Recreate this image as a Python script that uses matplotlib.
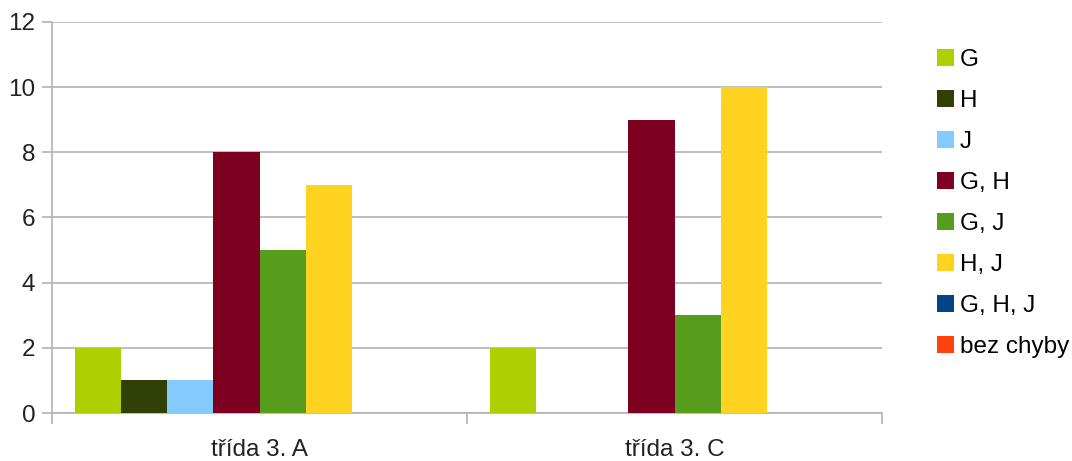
import numpy as np
import matplotlib.pyplot as plt
from matplotlib.ticker import FixedLocator

plt.rcParams['font.family'] = ['Liberation Sans', 'DejaVu Sans']

# počty chyb podle tříd
classes = ['třída 3. A', 'třída 3. C']
series = ['G', 'H', 'J', 'G, H', 'G, J', 'H, J', 'G, H, J', 'bez chyby']
values = {
    'G': [2, 2],
    'H': [1, 0],
    'J': [1, 0],
    'G, H': [8, 9],
    'G, J': [5, 3],
    'H, J': [7, 10],
    'G, H, J': [0, 0],
    'bez chyby': [0, 0],
}
colors = ['#aecf00', '#314004', '#83caff', '#7e0021', '#579d1c', '#ffd320', '#004586', '#ff420e']

grid_col = '#b3b3b3'
fig = plt.figure(figsize=(10.72, 4.61), dpi=100)
ax = fig.add_axes([52 / 1072, 1 - 413 / 461, 830 / 1072, 391 / 461])

x = np.arange(len(classes))
w = 0.111
for i, (name, c) in enumerate(zip(series, colors)):
    off = (i - (len(series) - 1) / 2) * w
    ax.bar(x + off, values[name], w, color=c, label=name, zorder=3)

ax.set_xlim(-0.5, 1.5)
ax.set_ylim(0, 12)
ax.set_yticks(range(0, 13, 2))
ax.set_xticks(x)
ax.set_xticklabels(classes)
ax.xaxis.set_minor_locator(FixedLocator([-0.5, 0.5, 1.5]))

ax.grid(axis='y', color=grid_col, linewidth=1.2, zorder=0)
for s in ['top', 'right']:
    ax.spines[s].set_visible(False)
for s in ['left', 'bottom']:
    ax.spines[s].set_color(grid_col)
    ax.spines[s].set_linewidth(1.2)

ax.tick_params(axis='y', length=7, width=1.2, color=grid_col, pad=5, labelsize=17.5, labelcolor='#222222')
ax.tick_params(axis='x', which='major', length=0, pad=19, labelsize=17.5, labelcolor='#222222')
ax.tick_params(axis='x', which='minor', length=8, width=1.2, color=grid_col)

ax.legend(loc='upper left', bbox_to_anchor=(1.055, 0.955), frameon=False, fontsize=17.5,
          handlelength=0.7, handleheight=0.7, handletextpad=0.22, labelspacing=0.78,
          borderaxespad=0)

fig.savefig('out.png', dpi=100)
